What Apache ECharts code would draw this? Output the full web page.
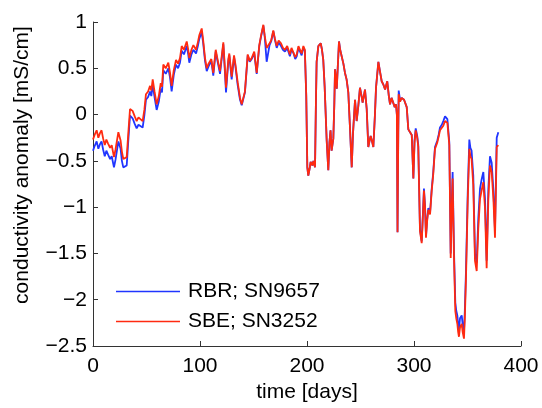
<!DOCTYPE html>
<html>
<head>
<meta charset="utf-8">
<script src="https://cdn.jsdelivr.net/npm/echarts@6/dist/echarts.min.js"></script>
<style>html,body{margin:0;padding:0;background:#fff}#c{width:542px;height:408px}</style>
</head>
<body>
<div id="c"></div>
<script>
var days = [0,1.5,3.4,5,6.5,8,9.5,11,12.5,14,16,17.5,19.6,21,23.7,25.8,27,28.3,29.5,31.5,33,34.6,37,39,40.8,42.5,44,46.4,48,49.5,51.5,53.3,54.5,55.8,57.5,59.5,61.5,63.3,64.5,65.7,68,70.4,72,73.5,75.5,77.6,79.5,81.3,82.9,85,87.6,89,90,92,93.8,96.3,98,99.4,101.6,103,104.7,106.3,108,110.6,112.4,114.7,116,118.7,121.8,123,124.3,126.5,127.4,129.6,131.8,133,135.2,137.4,139,140.5,142,144.6,146.5,148.3,150.7,153,155.4,157,159.2,160.5,162.3,165,166.5,168.5,170,171.7,173.5,175.7,177.5,179.4,181.5,184,185.5,187.2,189,190.4,192,193.5,195,196.6,198,199.3,200.3,201.2,202.5,203.4,205,206,207.5,208.3,209,210.6,212.8,214,215.2,216.5,218.4,219.9,221,222,223,224.6,225.5,226.2,227.8,229.9,231,232.4,234,235.5,237,238.6,240,241.8,243,244.9,246.4,248,249.5,251,252,254.2,255.8,257.3,258.5,259.5,261,262,263.5,264.5,266.7,268,269.8,271.5,273,275,276.5,277.6,279,280.7,282,283.2,284,284.6,285.3,285.7,287,288.5,290.7,293.2,294.7,296.3,297.9,299.4,300.5,301.6,303,304,305.6,307.2,308.3,309.3,310.3,311.2,312.3,313.4,315,316.5,318,319.6,321.8,323,324.3,326,327.4,329,331.2,333,334.3,335.3,336.1,337.4,338.6,339.5,340.5,341.3,342,343,344.6,345.5,346.7,347.5,348.6,350.2,351.7,352.7,353.8,355.4,357,358.6,360.1,361.7,363.2,364.8,366.4,367.9,369.5,371,372.6,374.2,375.7,377.3,378.8];
var sbe = [-0.27,-0.22,-0.17,-0.25,-0.20,-0.17,-0.26,-0.33,-0.27,-0.31,-0.36,-0.33,-0.46,-0.38,-0.19,-0.28,-0.40,-0.48,-0.50,-0.46,-0.20,0.06,0.04,-0.02,-0.07,-0.03,-0.01,-0.07,0.05,0.22,0.25,0.31,0.26,0.38,0.25,0.11,0.20,0.34,0.30,0.54,0.50,0.56,0.45,0.31,0.48,0.59,0.55,0.61,0.74,0.70,0.79,0.70,0.61,0.70,0.75,0.70,0.78,0.86,0.93,0.80,0.61,0.50,0.55,0.60,0.45,0.70,0.62,0.47,0.78,0.55,0.29,0.60,0.66,0.41,0.64,0.55,0.35,0.18,0.11,0.18,0.25,0.65,0.58,0.61,0.68,0.45,0.75,0.85,0.97,0.85,0.72,0.77,0.80,0.91,0.82,0.74,0.80,0.77,0.72,0.70,0.74,0.65,0.72,0.70,0.62,0.65,0.74,0.70,0.66,0.74,0.70,0.20,-0.57,-0.66,-0.58,-0.51,-0.55,-0.50,-0.57,0.10,0.57,0.74,0.77,0.70,0.59,0.30,-0.28,-0.60,-0.30,-0.17,-0.39,-0.26,0.10,0.49,0.28,0.79,0.70,0.63,0.55,0.45,0.38,0.24,-0.10,-0.57,-0.20,0.16,-0.07,0.10,0.29,0.20,0.13,0.27,0.06,-0.35,-0.28,-0.23,-0.30,-0.35,0.00,0.29,0.57,0.48,0.36,0.32,0.27,0.36,0.20,0.11,0.18,0.16,0.08,0.11,0.00,-1.27,-0.20,0.22,0.14,0.18,0.16,0.08,-0.16,-0.19,-0.22,-0.69,-0.30,-0.17,-0.25,-0.35,-1.26,-1.39,-1.10,-0.82,-1.00,-1.33,-1.15,-1.03,-1.08,-0.83,-0.64,-0.37,-0.30,-0.24,-0.17,-0.15,-0.12,-0.07,-0.09,-0.33,-1.55,-1.00,-0.69,-1.55,-2.12,-2.20,-2.26,-2.35,-2.40,-2.30,-2.26,-2.35,-2.42,-2.20,-1.76,-0.94,-0.37,-0.45,-0.48,-0.76,-1.58,-1.69,-1.23,-0.91,-0.82,-0.73,-1.02,-1.66,-0.91,-0.55,-0.62,-0.91,-1.33,-0.35,-0.33];
var rbr = [-0.39,-0.34,-0.29,-0.37,-0.32,-0.29,-0.38,-0.45,-0.39,-0.43,-0.48,-0.45,-0.57,-0.49,-0.29,-0.37,-0.50,-0.57,-0.59,-0.55,-0.28,-0.01,-0.04,-0.10,-0.15,-0.11,-0.09,-0.14,-0.01,0.16,0.19,0.25,0.20,0.32,0.19,0.05,0.14,0.28,0.24,0.48,0.44,0.50,0.40,0.25,0.43,0.54,0.50,0.56,0.69,0.65,0.74,0.65,0.56,0.65,0.70,0.66,0.74,0.82,0.89,0.77,0.58,0.47,0.52,0.58,0.42,0.68,0.60,0.44,0.76,0.52,0.24,0.58,0.64,0.38,0.62,0.53,0.32,0.16,0.10,0.17,0.24,0.64,0.57,0.60,0.66,0.44,0.74,0.84,0.96,0.84,0.57,0.75,0.79,0.90,0.81,0.72,0.78,0.74,0.70,0.68,0.72,0.63,0.70,0.67,0.60,0.63,0.72,0.68,0.64,0.72,0.69,0.20,-0.57,-0.66,-0.58,-0.51,-0.55,-0.50,-0.57,0.10,0.57,0.74,0.77,0.70,0.59,0.30,-0.28,-0.60,-0.30,-0.17,-0.39,-0.26,0.10,0.49,0.28,0.79,0.70,0.63,0.55,0.45,0.38,0.24,-0.10,-0.57,-0.20,0.16,-0.07,0.10,0.29,0.20,0.13,0.27,0.06,-0.35,-0.28,-0.23,-0.30,-0.35,0.00,0.29,0.57,0.48,0.36,0.32,0.27,0.36,0.20,0.11,0.18,0.16,0.08,0.11,0.00,-1.27,-0.20,0.26,0.15,0.18,0.16,0.08,-0.16,-0.19,-0.22,-0.69,-0.28,-0.15,-0.23,-0.33,-1.24,-1.37,-1.08,-0.80,-0.98,-1.31,-1.13,-1.01,-1.06,-0.81,-0.62,-0.35,-0.28,-0.22,-0.14,-0.11,-0.07,-0.02,-0.05,-0.30,-1.50,-0.95,-0.62,-1.48,-2.03,-2.12,-2.17,-2.27,-2.33,-2.20,-2.17,-2.27,-2.34,-2.12,-1.68,-0.85,-0.27,-0.36,-0.39,-0.66,-1.50,-1.60,-1.12,-0.80,-0.70,-0.62,-0.92,-1.58,-0.80,-0.45,-0.52,-0.82,-1.25,-0.25,-0.19];
var seriesNames = ['RBR; SN9657', 'SBE; SN3252'];
var xTicks = [0, 100, 200, 300, 400];
var yTicks = [-2.5, -2, -1.5, -1, -0.5, 0, 0.5, 1];
var xLabel = 'time [days]';
var yLabel = 'conductivity anomaly [mS/cm]';

function pairs(vals) { return days.map(function (d, i) { return [d, vals[i]]; }); }
var FONT = '"Liberation Sans", Arial, Helvetica, sans-serif';
var chart = echarts.init(document.getElementById('c'), null, { renderer: 'canvas' });
chart.setOption({
  animation: false,
  backgroundColor: '#fff',
  grid: { left: 93, right: 21, top: 22, bottom: 59 },
  legend: {
    left: 111, top: 276, orient: 'vertical', itemGap: 9,
    itemWidth: 64, itemHeight: 1.5, icon: 'rect',
    textStyle: { fontFamily: FONT, fontSize: 21, color: '#000', padding: [0, 0, 0, 3] },
    data: seriesNames
  },
  xAxis: {
    type: 'value', min: xTicks[0], max: xTicks[xTicks.length - 1], interval: 100,
    name: xLabel, nameLocation: 'middle', nameGap: 36,
    nameTextStyle: { fontFamily: FONT, fontSize: 21, color: '#000' },
    axisLine: { onZero: false, lineStyle: { color: '#333', width: 1 } },
    axisTick: { inside: true, length: 5, lineStyle: { color: '#333' } },
    axisLabel: { fontFamily: FONT, fontSize: 21, color: '#000', margin: 10 },
    splitLine: { show: false }
  },
  yAxis: {
    type: 'value', min: yTicks[0], max: yTicks[yTicks.length - 1], interval: 0.5,
    axisLine: { show: true, onZero: false, lineStyle: { color: '#333', width: 1 } },
    axisTick: { show: true, inside: true, length: 5, lineStyle: { color: '#333' } },
    axisLabel: { fontFamily: FONT, fontSize: 21, color: '#000', margin: 6,
      formatter: function (v) { return String(v).replace('-', '\u2212'); } },
    splitLine: { show: false }
  },
  graphic: [{
    type: 'text', x: 22, y: 165, rotation: Math.PI / 2,
    style: { text: yLabel, fontFamily: FONT, fontSize: 21, fill: '#000', align: 'center', verticalAlign: 'middle' }
  }],
  series: [
    { name: seriesNames[0], type: 'line', data: pairs(rbr), symbol: 'none', lineStyle: { color: '#2035ff', width: 1.8 }, itemStyle: { color: '#2035ff' } },
    { name: seriesNames[1], type: 'line', data: pairs(sbe), symbol: 'none', lineStyle: { color: '#ff2a10', width: 1.8 }, itemStyle: { color: '#ff2a10' } }
  ]
});
</script>
</body>
</html>
